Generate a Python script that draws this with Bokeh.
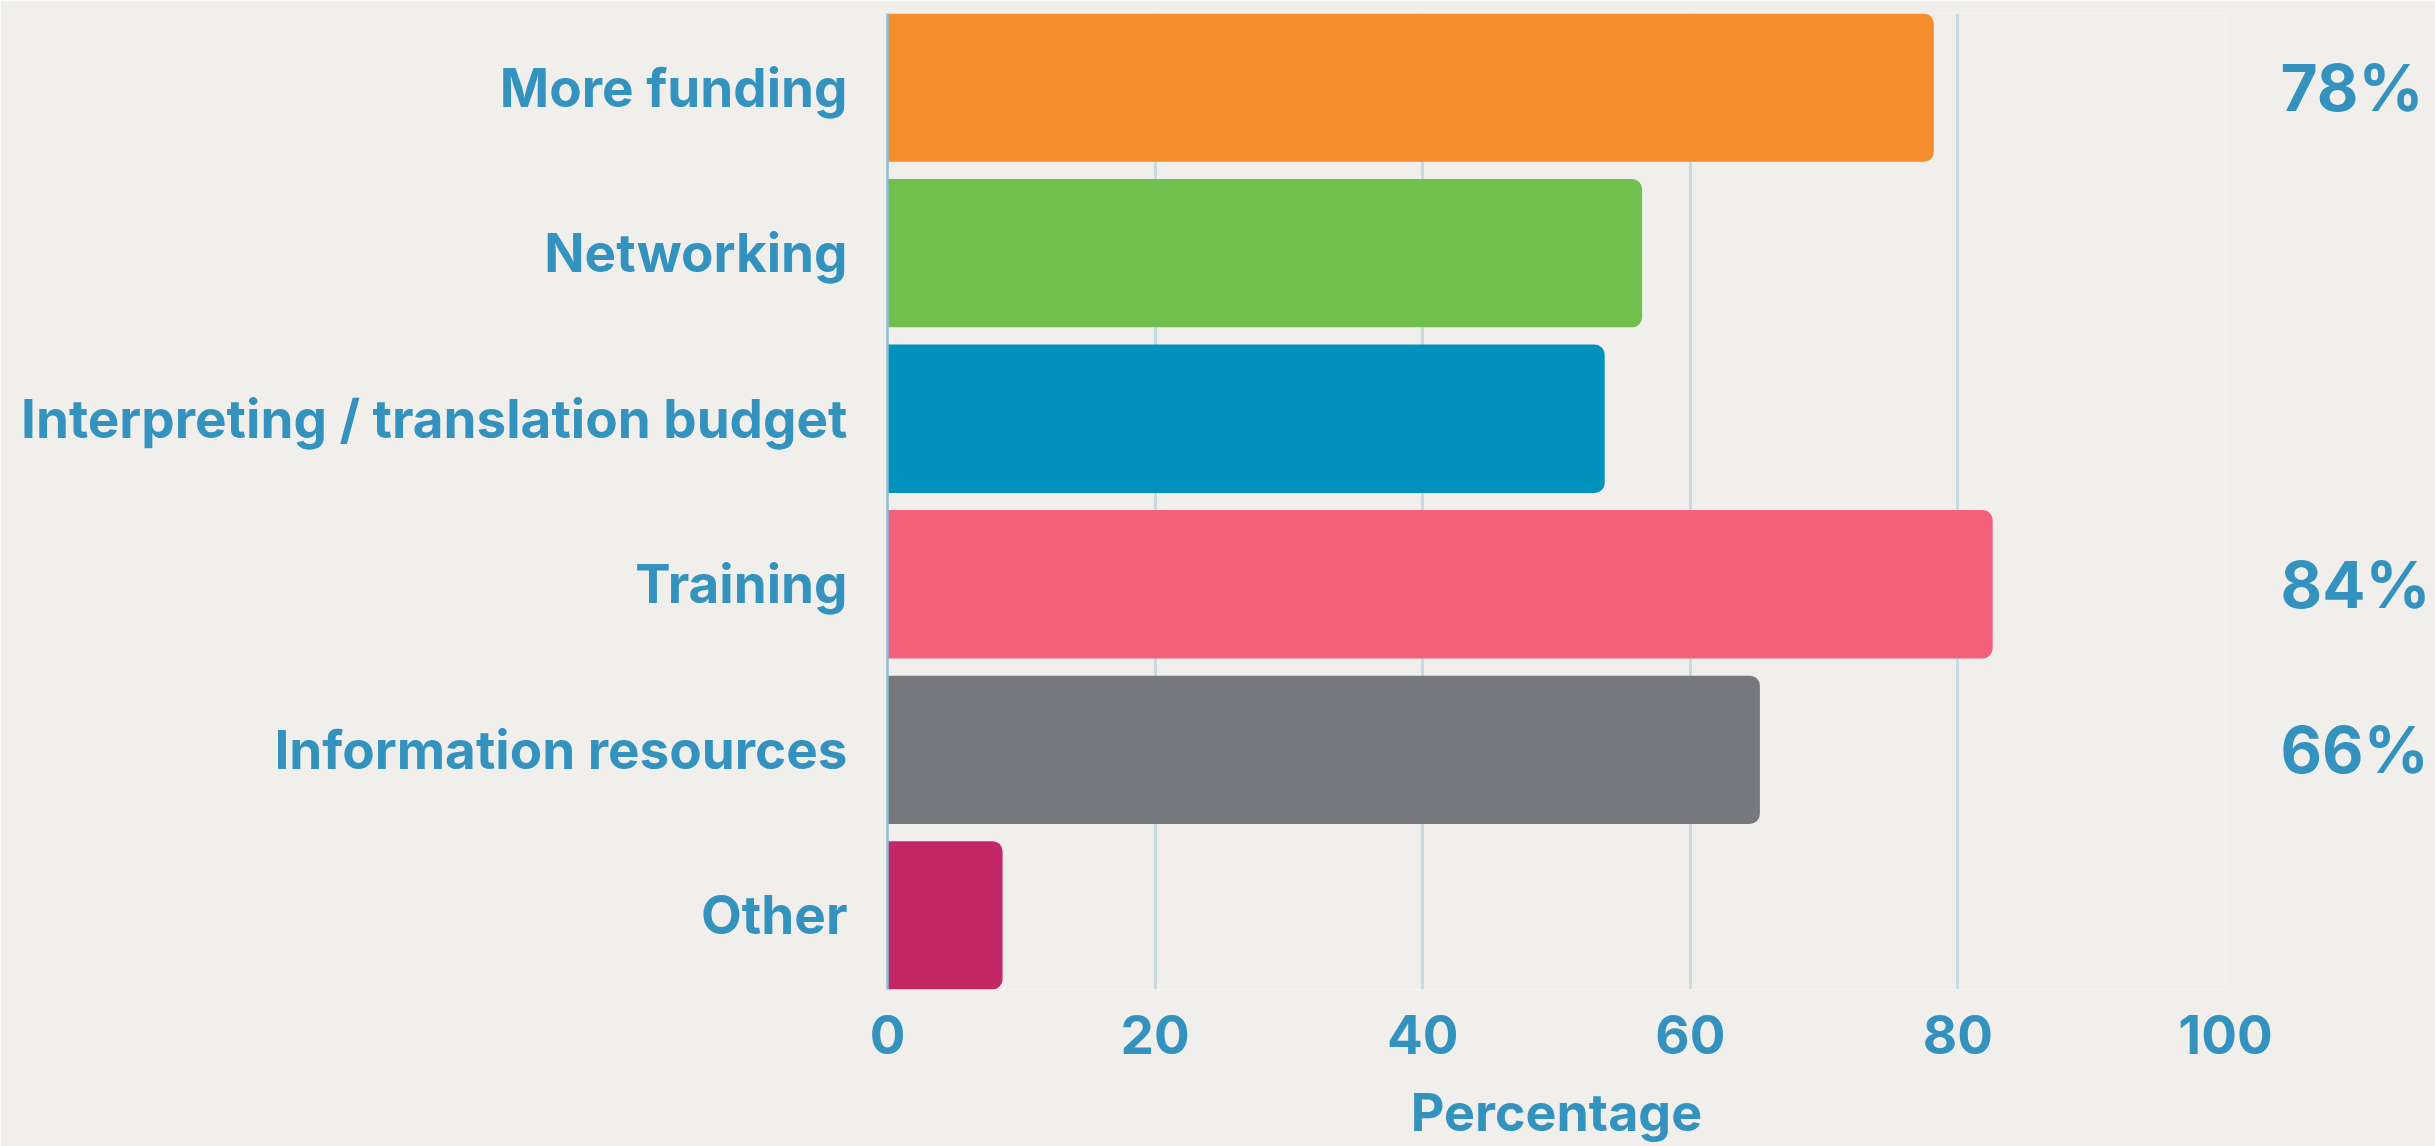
from bokeh.plotting import figure
from bokeh.models import Range1d, FixedTicker, LinearAxis, ColumnDataSource
from bokeh.embed import file_html
from bokeh.resources import INLINE

categories = ["More funding", "Networking", "Interpreting / translation budget",
              "Training", "Information resources", "Other"]
values = [78.2, 56.4, 53.6, 82.6, 65.2, 8.6]
colors = ["#F68D2C", "#70BF4F", "#0092BD", "#F26079", "#76787D", "#C32765"]
annotations = ["78%", "", "", "84%", "66%", ""]
x_ticks = [0, 20, 40, 60, 80, 100]
x_label = "Percentage"

TEXT = "#3492BF"
BG = "#F0EFEB"
FONT = "Inter"

positions = list(range(len(categories)))
bar_h = 0.896

p = figure(width=2435, height=1146, output_backend="svg", toolbar_location=None,
           x_range=Range1d(0, 100),
           y_range=Range1d(len(categories) - 1 + bar_h / 2, -bar_h / 2),
           min_border_left=887, min_border_right=210, min_border_top=13,
           min_border_bottom=155)

src = ColumnDataSource(dict(y=positions, v=values, c=colors))
p.hbar(y="y", left=0, right="v", height=bar_h, fill_color="c", line_color=None,
       border_radius=(0, 10, 10, 0), source=src)

p.background_fill_color = BG
p.border_fill_color = BG
p.outline_line_color = None

# x axis
p.xaxis.ticker = FixedTicker(ticks=x_ticks)
p.xaxis.axis_label = x_label
p.xaxis.axis_line_color = None
p.xaxis.major_tick_line_color = None
p.xaxis.minor_tick_line_color = None
p.xaxis.major_label_text_font = FONT
p.xaxis.major_label_text_font_style = "bold"
p.xaxis.major_label_text_font_size = "53px"
p.xaxis.major_label_text_color = TEXT
p.xaxis.major_label_standoff = 19
p.xaxis.axis_label_text_font = FONT
p.xaxis.axis_label_text_font_style = "bold"
p.xaxis.axis_label_text_font_size = "52px"
p.xaxis.axis_label_text_color = TEXT
p.xaxis.axis_label_standoff = 24

# y axis (categories)
p.yaxis.ticker = FixedTicker(ticks=positions)
p.yaxis.major_label_overrides = {i: c for i, c in zip(positions, categories)}
p.yaxis.axis_line_color = "#8CBCD6"
p.yaxis.axis_line_width = 2.5
p.yaxis.major_tick_line_color = None
p.yaxis.minor_tick_line_color = None
p.yaxis.major_label_text_font = FONT
p.yaxis.major_label_text_font_style = "bold"
p.yaxis.major_label_text_font_size = "53px"
p.yaxis.major_label_text_color = TEXT
p.yaxis.major_label_standoff = 34

# right axis with percentages
ann_pos = [i for i, a in zip(positions, annotations) if a]
right = LinearAxis(ticker=FixedTicker(ticks=ann_pos),
                   major_label_overrides={i: a for i, a in zip(positions, annotations) if a},
                   axis_line_color=None, major_tick_line_color=None,
                   minor_tick_line_color=None,
                   major_label_text_font="Inter", major_label_text_font_style="bold",
                   major_label_text_font_size="64px", major_label_text_color=TEXT,
                   major_label_standoff=49)
p.add_layout(right, "right")

p.xgrid.ticker = FixedTicker(ticks=x_ticks)
p.xgrid.grid_line_color = "#C6DAE1"
p.xgrid.grid_line_width = 3
p.ygrid.grid_line_color = None

open("out.html", "w").write(file_html(p, INLINE))
